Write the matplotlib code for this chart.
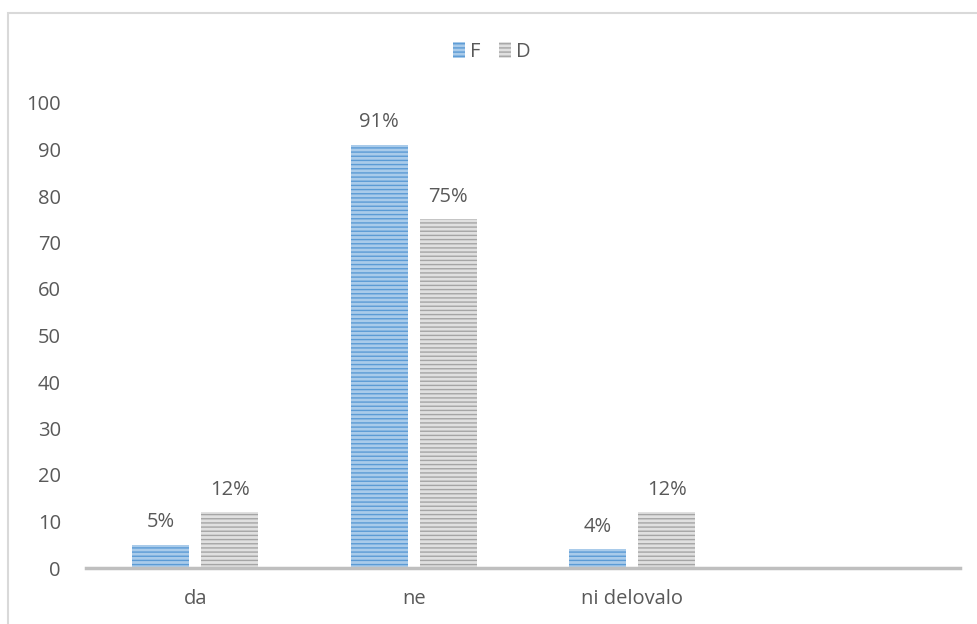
import numpy as np
import matplotlib
matplotlib.use("Agg")
from matplotlib import pyplot as plt
from matplotlib.patches import Rectangle

plt.rcParams['font.family'] = ['Open Sans', 'DejaVu Sans']
plt.rcParams['hatch.linewidth'] = 1.0

categories = ["da", "ne", "ni delovalo", ""]
f_values = [5, 91, 4]
d_values = [12, 75, 12]
f_labels = ["5%", "91%", "4%"]
d_labels = ["12%", "75%", "12%"]

text_col = "#595959"
blue_face = "#a9cbea"
blue_line = "#5b9bd5"
gray_face = "#e0e0e0"
gray_line = "#a5a5a5"
fs = 14.5

fig = plt.figure(figsize=(9.78, 6.24), dpi=100)
# outer chart frame
fig.patches.append(Rectangle((8 / 978, -0.05), 1.1, 1 - 13 / 624 + 0.05,
                             transform=fig.transFigure, fill=False,
                             edgecolor="#d9d9d9", linewidth=1.5))

ax = fig.add_axes([86 / 978, 1 - 568 / 624, (960 - 86) / 978, (568 - 103) / 624])

x = np.arange(len(categories))
w = 0.26
off = 0.158
bf = ax.bar(x[:3] - off, f_values, w, color=blue_face, edgecolor=blue_line,
            hatch="----", linewidth=0, label="F")
bd = ax.bar(x[:3] + off, d_values, w, color=gray_face, edgecolor=gray_line,
            hatch="----", linewidth=0, label="D")

for rect, lab in zip(bf, f_labels):
    ax.annotate(lab, (rect.get_x() + rect.get_width() / 2, rect.get_height()),
                xytext=(0, 9), textcoords="offset points", ha="center",
                va="bottom", fontsize=fs, color=text_col)
for rect, lab in zip(bd, d_labels):
    ax.annotate(lab, (rect.get_x() + rect.get_width() / 2, rect.get_height()),
                xytext=(0, 9), textcoords="offset points", ha="center",
                va="bottom", fontsize=fs, color=text_col)

ax.set_xlim(-0.5, len(categories) - 0.5)
ax.set_ylim(0, 100)
ax.set_yticks(range(0, 101, 10))
ax.set_xticks(x)
ax.set_xticklabels(categories)
ax.tick_params(axis="both", length=0, labelsize=fs, colors=text_col)
ax.tick_params(axis="y", pad=18)
ax.tick_params(axis="x", pad=15)
for s in ["top", "right", "left"]:
    ax.spines[s].set_visible(False)
ax.spines["bottom"].set_color("#bfbfbf")
ax.spines["bottom"].set_linewidth(2.5)

ax.legend(loc="center", bbox_to_anchor=(492 / 978, 1 - 52 / 624),
          bbox_transform=fig.transFigure, ncol=2, frameon=False,
          fontsize=fs, handlelength=0.6, handleheight=0.8, handletextpad=0.25,
          columnspacing=0.9, labelcolor=text_col)

fig.savefig("out.png", dpi=100)
